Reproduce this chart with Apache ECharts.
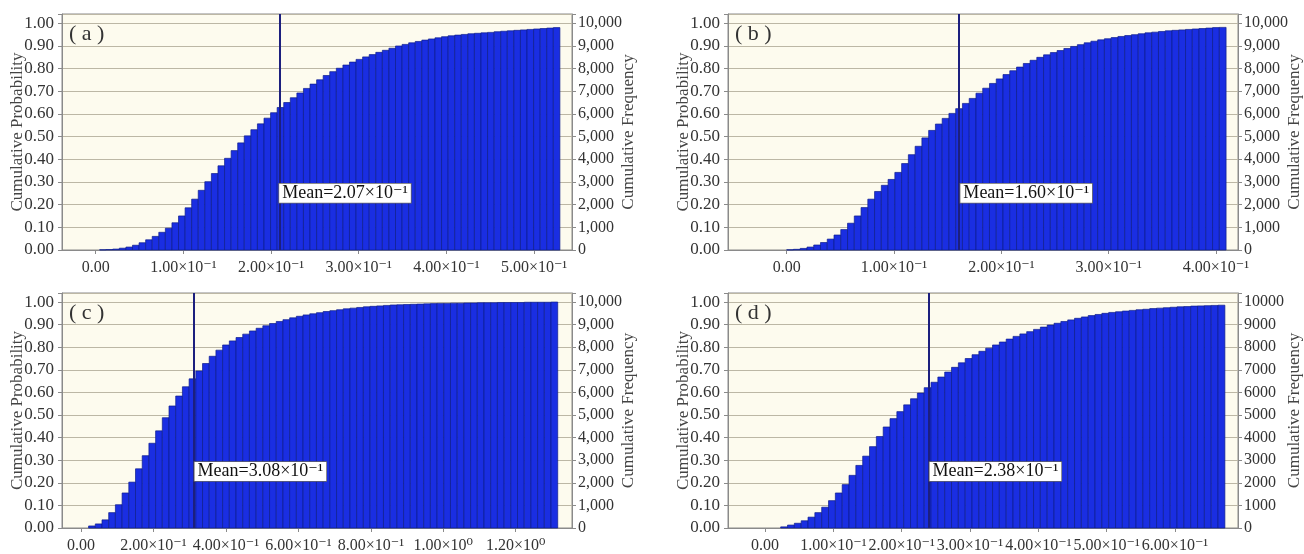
<!DOCTYPE html>
<html lang="en">
<head>
<meta charset="UTF-8">
<title>Cumulative Probability</title>
<script src="https://cdn.jsdelivr.net/npm/echarts@6/dist/echarts.min.js"></script>
<style>
  html, body { margin: 0; padding: 0; background: #ffffff; }
  #chart { width: 1304px; height: 554px; }
</style>
</head>
<body>
<div id="chart"></div>
<script>
// histogram bins: lower edge of the first bin and bin width
var binStartA = 0.0045, binWidthA = 0.0075;
var binStartB = 0.0, binWidthB = 0.0063;
var binStartC = 0.021, binWidthC = 0.0185;
var binStartD = 0.023, binWidthD = 0.01;

// cumulative probability of each bin
var cumProbA = [
  0.001, 0.002, 0.004, 0.008, 0.013, 0.021, 0.032, 0.045, 0.060, 0.078,
  0.096, 0.120, 0.150, 0.186, 0.224, 0.263, 0.301, 0.337, 0.371, 0.404,
  0.438, 0.472, 0.503, 0.530, 0.556, 0.581, 0.605, 0.628, 0.650, 0.671,
  0.692, 0.712, 0.731, 0.750, 0.769, 0.786, 0.801, 0.815, 0.828, 0.840,
  0.851, 0.861, 0.871, 0.880, 0.889, 0.899, 0.906, 0.913, 0.919, 0.925,
  0.930, 0.935, 0.940, 0.944, 0.947, 0.950, 0.953, 0.955, 0.957, 0.959,
  0.962, 0.964, 0.966, 0.968, 0.970, 0.972, 0.974, 0.976, 0.978, 0.980
];
var cumProbB = [
  0.001, 0.003, 0.007, 0.013, 0.022, 0.033, 0.048, 0.066, 0.090, 0.118,
  0.150, 0.187, 0.224, 0.258, 0.285, 0.311, 0.342, 0.381, 0.420, 0.457,
  0.494, 0.527, 0.555, 0.580, 0.602, 0.623, 0.646, 0.668, 0.691, 0.713,
  0.734, 0.754, 0.773, 0.790, 0.806, 0.822, 0.836, 0.849, 0.860, 0.870,
  0.879, 0.888, 0.897, 0.905, 0.913, 0.920, 0.926, 0.931, 0.936, 0.941,
  0.945, 0.949, 0.953, 0.957, 0.960, 0.963, 0.966, 0.968, 0.970, 0.972,
  0.974, 0.976, 0.978, 0.980, 0.981
];
var cumProbC = [
  0.009, 0.018, 0.036, 0.068, 0.103, 0.155, 0.203, 0.262, 0.320, 0.375,
  0.430, 0.488, 0.540, 0.584, 0.625, 0.660, 0.695, 0.728, 0.760, 0.787,
  0.810, 0.828, 0.843, 0.858, 0.872, 0.884, 0.895, 0.905, 0.914, 0.922,
  0.930, 0.937, 0.943, 0.948, 0.953, 0.958, 0.962, 0.966, 0.970, 0.973,
  0.976, 0.979, 0.981, 0.983, 0.985, 0.987, 0.988, 0.989, 0.990, 0.991,
  0.992, 0.993, 0.994, 0.994, 0.995, 0.995, 0.996, 0.996, 0.997, 0.997,
  0.997, 0.998, 0.998, 0.998, 0.998, 0.999, 0.999, 0.999, 0.999, 1.000
];
var cumProbD = [
  0.005, 0.013, 0.021, 0.032, 0.048, 0.068, 0.092, 0.121, 0.155, 0.192,
  0.233, 0.277, 0.318, 0.360, 0.405, 0.447, 0.484, 0.515, 0.545, 0.572,
  0.597, 0.621, 0.645, 0.668, 0.690, 0.711, 0.731, 0.750, 0.767, 0.782,
  0.796, 0.810, 0.823, 0.836, 0.848, 0.859, 0.869, 0.879, 0.889, 0.898,
  0.906, 0.914, 0.921, 0.928, 0.934, 0.940, 0.945, 0.950, 0.954, 0.957,
  0.960, 0.963, 0.966, 0.968, 0.971, 0.973, 0.975, 0.977, 0.979, 0.980,
  0.982, 0.983, 0.984, 0.985, 0.986
];

var meanA = 0.207, meanTextA = 'Mean=2.07×10⁻¹';
var meanB = 0.160, meanTextB = 'Mean=1.60×10⁻¹';
var meanC = 0.308, meanTextC = 'Mean=3.08×10⁻¹';
var meanD = 0.238, meanTextD = 'Mean=2.38×10⁻¹';

var xTicksA = [0, 0.1, 0.2, 0.3, 0.4, 0.5];
var xLabelsA = ['0.00', '1.00×10⁻¹', '2.00×10⁻¹', '3.00×10⁻¹', '4.00×10⁻¹', '5.00×10⁻¹'];
var xTicksB = [0, 0.1, 0.2, 0.3, 0.4];
var xLabelsB = ['0.00', '1.00×10⁻¹', '2.00×10⁻¹', '3.00×10⁻¹', '4.00×10⁻¹'];
var xTicksC = [0, 0.2, 0.4, 0.6, 0.8, 1.0, 1.2];
var xLabelsC = ['0.00', '2.00×10⁻¹', '4.00×10⁻¹', '6.00×10⁻¹', '8.00×10⁻¹', '1.00×10⁰', '1.20×10⁰'];
var xTicksD = [0, 0.1, 0.2, 0.3, 0.4, 0.5, 0.6];
var xLabelsD = ['0.00', '1.00×10⁻¹', '2.00×10⁻¹', '3.00×10⁻¹', '4.00×10⁻¹', '5.00×10⁻¹', '6.00×10⁻¹'];

var trials = 10000;

var font = '"Liberation Serif", "DejaVu Serif", serif';
var axisGray = '#8a8a8a';
var textGray = '#333333';

var panels = [
  {tag: '( a )', start: binStartA, width: binWidthA, prob: cumProbA, mean: meanA, meanText: meanTextA,
   ticks: xTicksA, labels: xLabelsA, comma: true, xRange: [-0.0384, 0.5433], left: 62, top: 14},
  {tag: '( b )', start: binStartB, width: binWidthB, prob: cumProbB, mean: meanB, meanText: meanTextB,
   ticks: xTicksB, labels: xLabelsB, comma: true, xRange: [-0.0547, 0.4206], left: 728, top: 14},
  {tag: '( c )', start: binStartC, width: binWidthC, prob: cumProbC, mean: meanC, meanText: meanTextC,
   ticks: xTicksC, labels: xLabelsC, comma: true, xRange: [-0.0524, 1.3554], left: 62, top: 293},
  {tag: '( d )', start: binStartD, width: binWidthD, prob: cumProbD, mean: meanD, meanText: meanTextD,
   ticks: xTicksD, labels: xLabelsD, comma: false, xRange: [-0.0541, 0.6922], left: 728, top: 293}
];

function renderBar(params, api) {
  var p0 = api.coord([api.value(0), api.value(2)]);
  var p1 = api.coord([api.value(1), 0]);
  return {
    type: 'rect',
    shape: {x: p0[0], y: p0[1], width: p1[0] - p0[0], height: p1[1] - p0[1]},
    style: {fill: '#1a2ee2', stroke: '#0d1c8c', lineWidth: 0.7}
  };
}

var grids = [], xAxes = [], yAxes = [], series = [], titles = [];

panels.forEach(function (pn, k) {
  grids.push({
    left: pn.left, top: pn.top, width: 510, height: 236,
    show: true, backgroundColor: '#fdfbee', borderColor: axisGray, borderWidth: 1
  });

  xAxes.push({
    type: 'value', gridIndex: k, min: pn.xRange[0], max: pn.xRange[1],
    splitLine: {show: false},
    axisLine: {show: true, onZero: false, lineStyle: {color: axisGray}},
    axisTick: {show: true, customValues: pn.ticks, length: 4, lineStyle: {color: axisGray}},
    axisLabel: {
      customValues: pn.ticks, margin: 10, color: textGray, fontFamily: font, fontSize: 16,
      formatter: function (v) {
        for (var i = 0; i < pn.ticks.length; i++) {
          if (Math.abs(pn.ticks[i] - v) < 1e-9) return pn.labels[i];
        }
        return '';
      }
    }
  });

  yAxes.push({
    type: 'value', gridIndex: k, position: 'left', min: 0, max: 1.04, interval: 0.1,
    name: 'Cumulative Probability', nameLocation: 'middle', nameGap: 36, nameRotate: 90,
    nameMoveOverlap: false,
    nameTextStyle: {fontFamily: font, fontSize: 17, color: '#444444'},
    axisLine: {show: true, onZero: false, lineStyle: {color: axisGray}},
    axisTick: {show: true, length: 4, lineStyle: {color: axisGray}},
    axisLabel: {
      margin: 8, color: textGray, fontFamily: font, fontSize: 17,
      formatter: function (v) { return v > 1.001 ? '' : v.toFixed(2); }
    },
    splitLine: {show: true, lineStyle: {color: '#bcb7a5', width: 1}}
  });

  yAxes.push({
    type: 'value', gridIndex: k, position: 'right', min: 0, max: trials * 1.04, interval: 1000,
    name: 'Cumulative Frequency', nameLocation: 'middle', nameGap: 48, nameRotate: 90,
    nameMoveOverlap: false,
    nameTextStyle: {fontFamily: font, fontSize: 17, color: '#444444'},
    axisLine: {show: true, onZero: false, lineStyle: {color: axisGray}},
    axisTick: {show: true, length: 4, lineStyle: {color: axisGray}},
    axisLabel: {
      margin: 6, color: textGray, fontFamily: font, fontSize: 16,
      formatter: function (v) {
        if (v > trials + 1) return '';
        var s = String(Math.round(v));
        return pn.comma ? s.replace(/\B(?=(\d{3})+(?!\d))/g, ',') : s;
      }
    },
    splitLine: {show: false}
  });

  var bars = pn.prob.map(function (p, i) {
    return [pn.start + i * pn.width, pn.start + (i + 1) * pn.width, p];
  });

  series.push({
    type: 'custom', xAxisIndex: k, yAxisIndex: 2 * k,
    renderItem: renderBar, encode: {x: [0, 1], y: 2},
    data: bars, z: 2
  });

  series.push({
    type: 'scatter', xAxisIndex: k, yAxisIndex: 2 * k,
    symbolSize: 0, z: 5,
    itemStyle: {opacity: 1},
    data: [[pn.mean, 0.25]],
    label: {
      show: true, position: 'right', distance: 2,
      formatter: pn.meanText,
      fontFamily: font, fontSize: 18, color: '#111111',
      backgroundColor: '#ffffff', borderColor: '#666666', borderWidth: 0.8,
      padding: [1, 3, 0, 3]
    },
    markLine: {
      silent: true, symbol: ['none', 'none'], label: {show: false},
      lineStyle: {color: '#1c1f7e', width: 2, type: 'solid'},
      data: [{xAxis: pn.mean}]
    }
  });

  titles.push({
    text: pn.tag, left: pn.left + 7, top: pn.top + 9, padding: 0,
    textStyle: {fontFamily: font, fontSize: 22, fontWeight: 'normal', color: '#333333'}
  });
});

var myChart = echarts.init(document.getElementById('chart'));
myChart.setOption({
  animation: false,
  title: titles,
  grid: grids,
  xAxis: xAxes,
  yAxis: yAxes,
  series: series
});
</script>
</body>
</html>
